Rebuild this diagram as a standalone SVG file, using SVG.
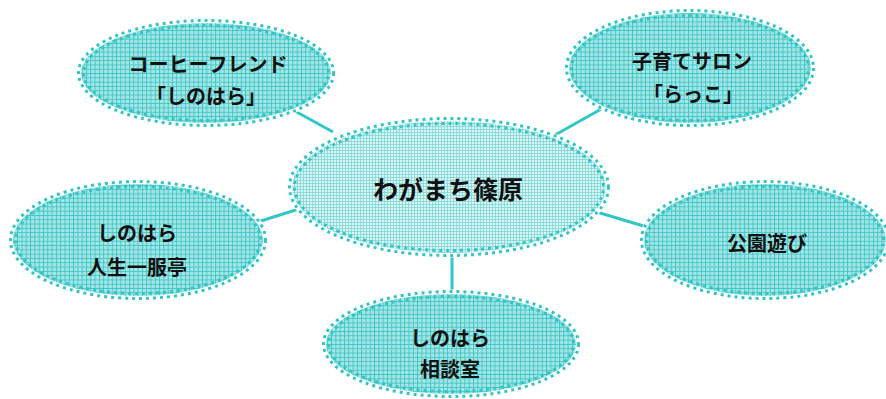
<svg xmlns="http://www.w3.org/2000/svg" width="886" height="399" viewBox="0 0 886 399">
  <defs>
    <pattern id="grid" width="4.3" height="4.3" patternUnits="userSpaceOnUse">
      <rect width="4.3" height="4.3" fill="#a4e5e5"/>
      <path d="M0 0.5H4.3M0.5 0V4.3" stroke="#3fc6c6" stroke-width="0.9" fill="none"/>
    </pattern>
    <pattern id="fine" width="3" height="3" patternUnits="userSpaceOnUse">
      <rect width="3" height="3" fill="#dcf4f4"/>
      <path d="M0 0.5H3M0.5 0V3" stroke="#86d9d9" stroke-width="0.9" fill="none"/>
    </pattern>
  </defs>
  <style>
    .fillg { fill: url(#grid); }
    .fillf { fill: url(#fine); }
    .halo { fill: none; stroke: #ffffff; stroke-width: 9; }
    .dotA { fill: none; stroke: #33c4c4; stroke-width: 3; stroke-dasharray: 3 4; }
    .dotB { fill: none; stroke: #33c4c4; stroke-width: 3; stroke-dasharray: 3 4; stroke-dashoffset: 3.5; }
    .conn { stroke: #33c6c6; stroke-width: 3; fill: none; }
    .t { font-family: "Noto Sans CJK JP", "Noto Sans CJK SC", sans-serif; font-weight: 700; fill: #111111; text-anchor: middle; dominant-baseline: central; }
    .s20 { font-size: 20px; }
    .s25 { font-size: 25px; }
  </style>

  <g id="connectors">
    <line class="conn" x1="293" y1="110" x2="333" y2="132"/>
    <line class="conn" x1="555" y1="135" x2="603" y2="108"/>
    <line class="conn" x1="248" y1="225" x2="302" y2="208"/>
    <line class="conn" x1="590" y1="210" x2="647" y2="227"/>
    <line class="conn" x1="452" y1="253" x2="452" y2="293"/>
  </g>

  <g id="center">
    <ellipse cx="449" cy="187" rx="157" ry="66" class="halo"/>
    <ellipse cx="449" cy="187" rx="157" ry="66" class="fillf"/>
    <ellipse cx="449" cy="187" rx="159.5" ry="68.5" class="dotA"/>
    <ellipse cx="449" cy="187" rx="154.5" ry="63.5" class="dotB"/>
    <text class="t s25" x="448" y="188">わがまち篠原</text>
  </g>

  <g id="coffee">
    <ellipse cx="206" cy="73" rx="125" ry="50" class="halo"/>
    <ellipse cx="206" cy="73" rx="125" ry="50" class="fillg"/>
    <ellipse cx="206" cy="73" rx="127.5" ry="52.5" class="dotA"/>
    <ellipse cx="206" cy="73" rx="122.5" ry="47.5" class="dotB"/>
    <text class="t s20" x="208" y="63">コーヒーフレンド</text>
    <text class="t s20" x="206" y="95">「しのはら」</text>
  </g>

  <g id="salon">
    <ellipse cx="690" cy="68" rx="121" ry="55" class="halo"/>
    <ellipse cx="690" cy="68" rx="121" ry="55" class="fillg"/>
    <ellipse cx="690" cy="68" rx="123.5" ry="57.5" class="dotA"/>
    <ellipse cx="690" cy="68" rx="118.5" ry="52.5" class="dotB"/>
    <text class="t s20" x="692" y="60">子育てサロン</text>
    <text class="t s20" x="693" y="93">「らっこ」</text>
  </g>

  <g id="jinsei">
    <ellipse cx="138" cy="240" rx="125" ry="56" class="halo"/>
    <ellipse cx="138" cy="240" rx="125" ry="56" class="fillg"/>
    <ellipse cx="138" cy="240" rx="127.5" ry="58.5" class="dotA"/>
    <ellipse cx="138" cy="240" rx="122.5" ry="53.5" class="dotB"/>
    <text class="t s20" x="137" y="232">しのはら</text>
    <text class="t s20" x="137" y="266">人生一服亭</text>
  </g>

  <g id="park">
    <ellipse cx="765" cy="240" rx="121" ry="56" class="halo"/>
    <ellipse cx="765" cy="240" rx="121" ry="56" class="fillg"/>
    <ellipse cx="765" cy="240" rx="123.5" ry="58.5" class="dotA"/>
    <ellipse cx="765" cy="240" rx="118.5" ry="53.5" class="dotB"/>
    <text class="t s20" x="767" y="242">公園遊び</text>
  </g>

  <g id="soudan">
    <ellipse cx="451" cy="344" rx="125" ry="50" class="halo"/>
    <ellipse cx="451" cy="344" rx="125" ry="50" class="fillg"/>
    <ellipse cx="451" cy="344" rx="127.5" ry="52.5" class="dotA"/>
    <ellipse cx="451" cy="344" rx="122.5" ry="47.5" class="dotB"/>
    <text class="t s20" x="450" y="337">しのはら</text>
    <text class="t s20" x="450" y="368">相談室</text>
  </g>
</svg>
